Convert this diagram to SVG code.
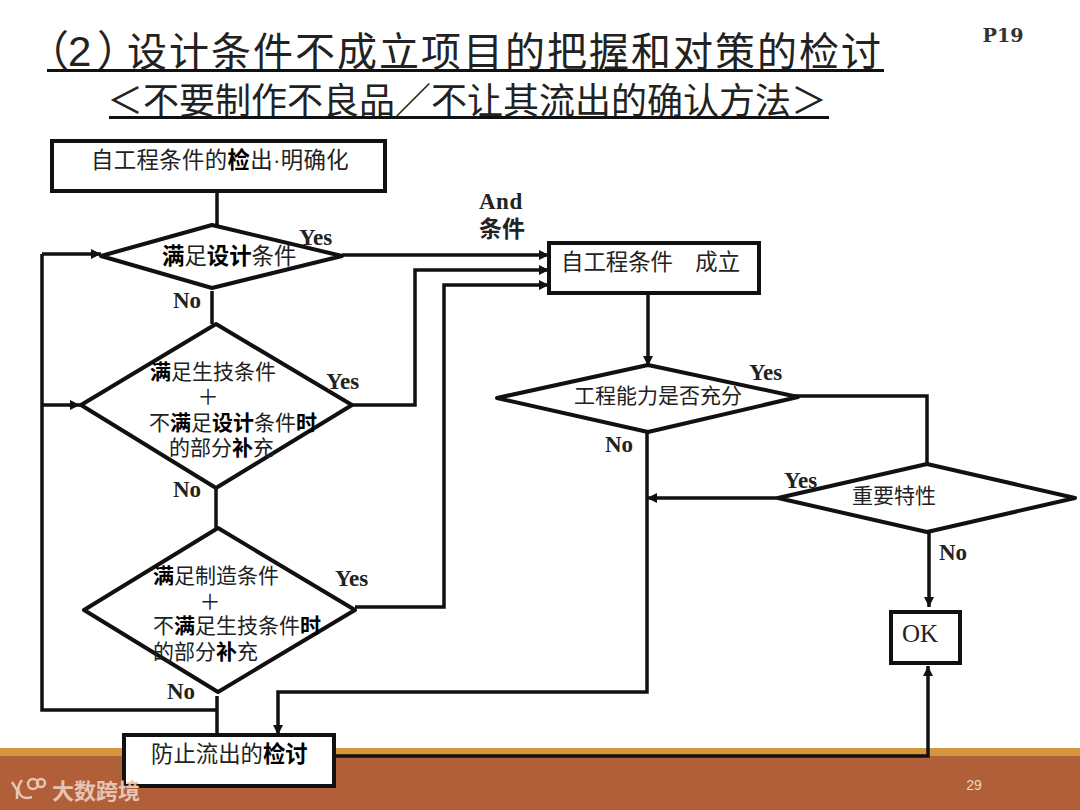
<svg xmlns="http://www.w3.org/2000/svg" width="1080" height="810" viewBox="0 0 1080 810">
<style>
.t{font-family:"Liberation Sans","Noto Sans CJK SC",sans-serif;fill:#222}
.p{font-feature-settings:"halt"}
.n{font-size:21px;fill:#222;font-family:"Liberation Sans","Noto Sans CJK SC",sans-serif}
.w{font-size:22.4px}
.b{font-weight:700;fill:#000}
.l{font-family:"Liberation Serif","Noto Sans CJK SC",serif;font-weight:700;font-size:23px;fill:#222}
.s{fill:#fff;stroke:#111;stroke-width:4}
.d{fill:none;stroke:#111;stroke-width:4;stroke-linejoin:round}
.c{fill:none;stroke:#111;stroke-width:3.5}
.m{fill:none;stroke:#e6c4b2;stroke-width:2.5}
</style>
<defs><marker id="a" markerUnits="userSpaceOnUse" markerWidth="12" markerHeight="12" refX="10" refY="5" orient="auto"><path d="M0 0L10 5L0 10Z" fill="#111"/></marker></defs>
<rect id="band" x="0" y="748" width="1080" height="8" fill="#d6963c"/>
<rect id="footer" x="0" y="756" width="1080" height="54" fill="#b05f38"/>
<text x="974" y="790" font-size="14" fill="#f0d5c2" text-anchor="middle" font-family="Liberation Sans,sans-serif">29</text>
<g id="title">
<text class="t" y="66" font-size="40"><tspan class="p" x="48" font-size="42">（</tspan><tspan x="68" font-size="42">2</tspan><tspan class="p" x="97" font-size="42">）</tspan><tspan x="127" letter-spacing="2">设计条件不成立项目的把握和对策的检讨</tspan></text>
<rect x="47" y="69" width="837" height="3" fill="#111"/>
<text class="t" x="107" y="114" font-size="36">＜不要制作不良品／不让其流出的确认方法＞</text>
<rect x="109" y="116" width="720" height="3" fill="#111"/>
<text x="1003" y="42" font-size="19" font-weight="700" text-anchor="middle" fill="#333" font-family="DejaVu Serif,serif" textLength="41" lengthAdjust="spacingAndGlyphs">P19</text>
</g>
<g id="connectors">
<path class="c" d="M217 192V226"/>
<path class="c" d="M212 291V324"/>
<path class="c" d="M216 488V530"/>
<path class="c" d="M217 696V735"/>
<path class="c" d="M217 710H42V254"/>
<path class="c" d="M42 254H101" marker-end="url(#a)"/>
<path class="c" d="M42 405H80" marker-end="url(#a)"/>
<path class="c" d="M342 255H549" marker-end="url(#a)"/>
<path class="c" d="M352 405H415V270H549" marker-end="url(#a)"/>
<path class="c" d="M355 607H444V285H549" marker-end="url(#a)"/>
<path class="c" d="M648 293V366" marker-end="url(#a)"/>
<path class="c" stroke-width="4.5" d="M792 396H927V465"/>
<path class="c" d="M778 498H647" marker-end="url(#a)"/>
<path class="c" d="M647 432V692H278V735" marker-end="url(#a)"/>
<path class="c" d="M929 532V607" marker-end="url(#a)"/>
<path class="c" d="M335 756H928V666" marker-end="url(#a)"/>
</g>
<g id="n1"><rect class="s" x="52" y="141" width="333" height="50"/><text class="n w" x="91" y="168" letter-spacing="0.35">自工程条件的<tspan class="b">检</tspan>出·明确化</text></g>
<g id="n2"><polygon class="d" points="101,256 212,225 342,256 212,288"/><text class="n w" x="162" y="264"><tspan class="b">满</tspan>足<tspan class="b">设计</tspan>条件</text></g>
<g id="n3"><polygon class="d" points="81,405 216,324 352,405 216,488"/><text class="n" x="150" y="379"><tspan class="b">满</tspan>足生技条件</text><text class="n" x="208" y="404" text-anchor="middle">＋</text><text class="n" x="149" y="430">不<tspan class="b">满</tspan>足<tspan class="b">设计</tspan>条件<tspan class="b">时</tspan></text><text class="n" x="169" y="455">的部分<tspan class="b">补</tspan>充</text></g>
<g id="n4"><polygon class="d" points="84,610 218,528 355,610 218,692"/><text class="n" x="153" y="583"><tspan class="b">满</tspan>足制造条件</text><text class="n" x="210" y="609" text-anchor="middle">＋</text><text class="n" x="153" y="633">不<tspan class="b">满</tspan>足生技条件<tspan class="b">时</tspan></text><text class="n" x="153" y="659">的部分<tspan class="b">补</tspan>充</text></g>
<g id="n5"><rect class="s" x="549" y="243" width="210" height="50"/><text class="n w" x="561" y="270">自工程条件　成立</text></g>
<g id="n6"><polygon class="d" points="497,398 648,365 798,397 648,432"/><text class="n" x="574" y="403">工程能力是否充分</text></g>
<g id="n7"><polygon class="d" points="778,498 927,464 1075,498 927,532"/><text class="n" x="852" y="503">重要特性</text></g>
<g id="n8"><rect class="s" x="891" y="612" width="69" height="51"/><text x="920" y="642" font-size="25" fill="#222" text-anchor="middle" font-family="Liberation Serif,serif">OK</text></g>
<g id="n9"><rect class="s" x="124" y="735" width="210" height="51"/><text class="n w" x="151" y="762">防止流出的<tspan class="b">检讨</tspan></text></g>
<g id="labels">
<text class="l" x="299" y="245">Yes</text><text class="l" x="173" y="308">No</text>
<text class="l" x="326" y="389">Yes</text><text class="l" x="173" y="497">No</text>
<text class="l" x="335" y="586">Yes</text><text class="l" x="167" y="699">No</text>
<text class="l" x="749" y="380">Yes</text><text class="l" x="605" y="452">No</text>
<text class="l" x="784" y="488">Yes</text><text class="l" x="939" y="560">No</text>
<text class="l" x="479" y="209" letter-spacing="0.5">And</text><text class="l" x="479" y="237">条件</text>
</g>
<g id="watermark">
<path class="m" d="M12 782L17 790V799M22 780C14 790 20 801 32 797"/>
<circle class="m" cx="33" cy="784" r="5"/><circle class="m" cx="41" cy="783" r="4"/>
<text x="52" y="799" font-size="22" font-weight="700" fill="#e6c4b2" font-family="Noto Sans CJK SC,sans-serif">大数跨境</text>
</g>
</svg>
